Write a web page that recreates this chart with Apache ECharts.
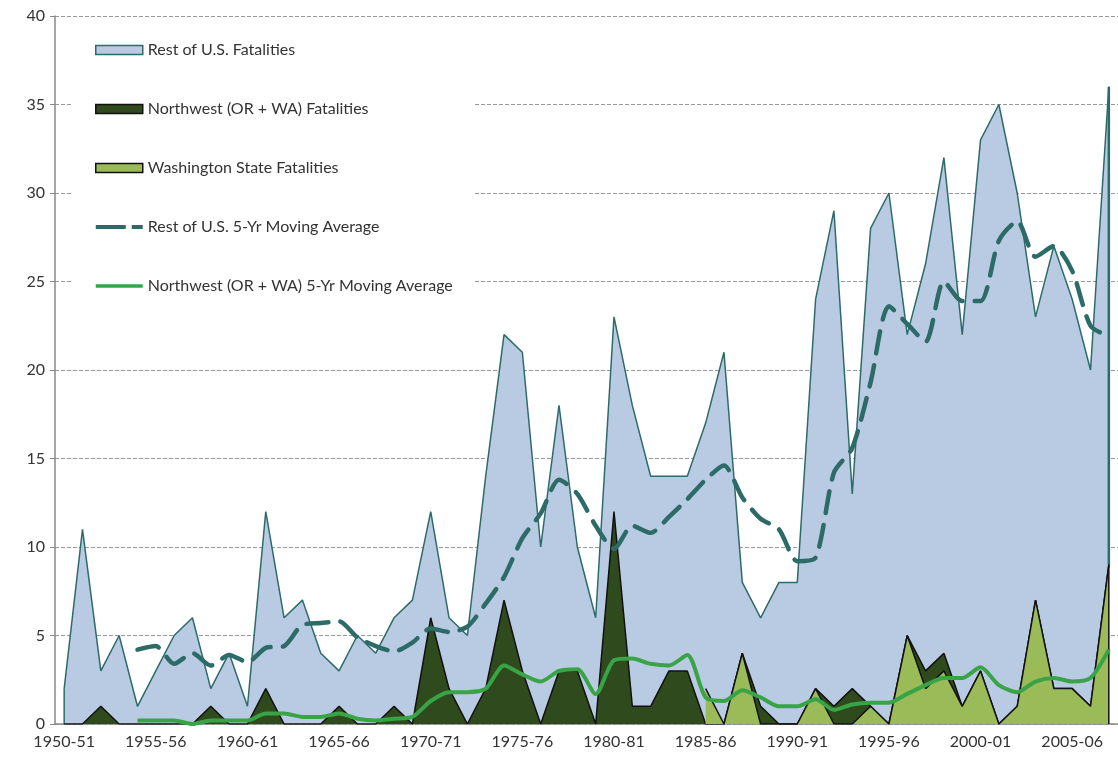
<!DOCTYPE html>
<html>
<head>
<meta charset="utf-8">
<script src="https://cdn.jsdelivr.net/npm/echarts@6/dist/echarts.min.js"></script>
<style>html,body{margin:0;padding:0;background:#fff}#c{width:1118px;height:760px}</style>
</head>
<body>
<div id="c"></div>
<script>
const seasons = [
  '1950-51','1951-52','1952-53','1953-54','1954-55','1955-56','1956-57','1957-58','1958-59','1959-60',
  '1960-61','1961-62','1962-63','1963-64','1964-65','1965-66','1966-67','1967-68','1968-69','1969-70',
  '1970-71','1971-72','1972-73','1973-74','1974-75','1975-76','1976-77','1977-78','1978-79','1979-80',
  '1980-81','1981-82','1982-83','1983-84','1984-85','1985-86','1986-87','1987-88','1988-89','1989-90',
  '1990-91','1991-92','1992-93','1993-94','1994-95','1995-96','1996-97','1997-98','1998-99','1999-00',
  '2000-01','2001-02','2002-03','2003-04','2004-05','2005-06','2006-07','2007-08'
];
// Rest of U.S. fatalities (stacked above Northwest)
const restUS = [2,11,2,5,1,3,5,6,1,4, 1,10,6,7,4,2,5,4,5,7, 6,4,5,12,15,18,10,15,7,6,
  11,17,13,11,11,17,21,4,5,8, 8,22,28,11,27,30,17,23,28,21, 30,35,29,16,25,22,19,27];
// Northwest (OR + WA) fatalities
const northwest = [0,0,1,0,0,0,0,0,1,0, 0,2,0,0,0,1,0,0,1,0, 6,2,0,2,7,3,0,3,3,0,
  12,1,1,3,3,0,0,4,1,0, 0,2,1,2,1,0,5,3,4,1, 3,0,1,7,2,2,1,9];
// Washington State fatalities (shown from 1985-86)
const washington = [null,null,null,null,null,null,null,null,null,null,
  null,null,null,null,null,null,null,null,null,null,
  null,null,null,null,null,null,null,null,null,null,
  null,null,null,null,null,2,0,4,0,0, 0,2,0,0,1,0,5,2,3,1, 3,0,1,7,2,2,1,9];
// Rest of U.S. 5-yr moving average
const restMA = [null,null,null,null,4.2,4.4,3.4,4.0,3.3,3.9, 3.5,4.3,4.4,5.6,5.7,5.8,4.9,4.4,4.1,4.6,
  5.4,5.2,5.5,6.8,8.3,10.5,11.9,13.8,13.0,11.2, 9.9,11.2,10.8,11.7,12.7,13.8,14.6,12.8,11.6,11.0,
  9.2,9.4,14.2,15.6,19.3,23.6,22.6,21.6,25.0,23.9, 23.9,27.3,28.4,26.4,27.0,25.6,22.5,21.9];
// Northwest (OR + WA) 5-yr moving average
const nwMA = [null,null,null,null,0.2,0.2,0.2,0.0,0.2,0.2, 0.2,0.6,0.6,0.4,0.4,0.6,0.3,0.2,0.3,0.4,
  1.3,1.8,1.8,2.0,3.3,2.8,2.4,3.0,3.1,1.7, 3.6,3.7,3.4,3.3,3.9,1.5,1.3,1.9,1.5,1.0,
  1.0,1.4,0.8,1.1,1.2,1.2,1.7,2.2,2.6,2.6, 3.2,2.2,1.8,2.4,2.6,2.4,2.6,4.2];
const yMin = 0, yMax = 40, yStep = 5;

const FONT = 'Lato, "Open Sans", sans-serif';
const TEAL = '#2d6b69';
const BLUE = '#b9cbe3';
const DARK = '#2f4a1d';
const LIGHT = '#9bbb59';
const GREEN = '#38a446';
const last = seasons.length - 1;

const chart = echarts.init(document.getElementById('c'));
chart.setOption({
  animation: false,
  backgroundColor: '#fff',
  grid: { left: 55, right: 0, top: 16, bottom: 36, containLabel: false },
  legend: {
    orient: 'vertical', left: 72, top: 24,
    padding: [18, 22, 8, 23], itemGap: 43, itemWidth: 47, itemHeight: 9,
    backgroundColor: '#fff',
    textStyle: { fontFamily: FONT, fontSize: 16, color: '#333' },
    data: [
      { name: 'Rest of U.S. Fatalities', icon: 'rect', itemStyle: { color: BLUE, borderColor: TEAL, borderWidth: 1.5 } },
      { name: 'Northwest (OR + WA) Fatalities', icon: 'rect', itemStyle: { color: DARK, borderColor: '#111', borderWidth: 1.5 } },
      { name: 'Washington State Fatalities', icon: 'rect', itemStyle: { color: LIGHT, borderColor: '#111', borderWidth: 1.5 } },
      { name: 'Rest of U.S. 5-Yr Moving Average', icon: 'path://M0,0H30V4H0ZM36,0H47V4H36Z', itemStyle: { color: TEAL, borderWidth: 0 } },
      { name: 'Northwest (OR + WA) 5-Yr Moving Average', icon: 'path://M0,0H47V3.5H0Z', itemStyle: { color: GREEN, borderWidth: 0 } }
    ]
  },
  xAxis: {
    type: 'category', data: seasons, boundaryGap: true,
    axisLine: { lineStyle: { color: '#888', width: 1.5 } },
    axisTick: { interval: 4, length: 5, lineStyle: { color: '#888' } },
    axisLabel: { interval: 4, fontFamily: FONT, fontSize: 16, color: '#333', margin: 10 },
    splitLine: { show: false }
  },
  yAxis: {
    type: 'value', min: yMin, max: yMax, interval: yStep,
    axisLine: { show: true, lineStyle: { color: '#888', width: 1.5 } },
    axisTick: { show: true, length: 5, lineStyle: { color: '#888' } },
    axisLabel: { fontFamily: FONT, fontSize: 16, color: '#333', margin: 10 },
    splitLine: { lineStyle: { color: '#999', type: [4, 2], width: 1 } }
  },
  series: [
    { name: 'Northwest (OR + WA) Fatalities', type: 'line', stack: 'fat', data: northwest, symbol: 'none', z: 3,
      lineStyle: { color: '#111', width: 1.5 }, itemStyle: { color: DARK }, areaStyle: { color: DARK, opacity: 1 } },
    { name: 'Rest of U.S. Fatalities', type: 'line', stack: 'fat', data: restUS, symbol: 'none', z: 2,
      lineStyle: { color: TEAL, width: 1.5 }, itemStyle: { color: BLUE }, areaStyle: { color: BLUE, opacity: 1 } },
    { name: 'Washington State Fatalities', type: 'line', data: washington, symbol: 'none', z: 4,
      lineStyle: { color: '#111', width: 1.5 }, itemStyle: { color: LIGHT }, areaStyle: { color: LIGHT, opacity: 1 } },
    { name: 'Rest of U.S. 5-Yr Moving Average', type: 'line', data: restMA, symbol: 'none', smooth: 0.25, z: 5,
      lineStyle: { color: TEAL, width: 4.5, type: [22, 12], cap: 'round' }, itemStyle: { color: TEAL } },
    { name: 'Northwest (OR + WA) 5-Yr Moving Average', type: 'line', data: nwMA, symbol: 'none', smooth: 0.25, z: 6,
      lineStyle: { color: GREEN, width: 4 }, itemStyle: { color: GREEN } },
    { name: 'edgeL', type: 'line', symbol: 'none', z: 2, silent: true,
      data: [[seasons[0], northwest[0]], [seasons[0], northwest[0] + restUS[0]]], lineStyle: { color: TEAL, width: 1.5 } },
    { name: 'edgeR', type: 'line', symbol: 'none', z: 2, silent: true,
      data: [[seasons[last], northwest[last]], [seasons[last], northwest[last] + restUS[last]]], lineStyle: { color: TEAL, width: 2.5 } },
    { name: 'edgeW', type: 'line', symbol: 'none', z: 4, silent: true,
      data: [[seasons[last], 0], [seasons[last], washington[last]]], lineStyle: { color: '#111', width: 1.5 } }
  ]
});
</script>
</body>
</html>
